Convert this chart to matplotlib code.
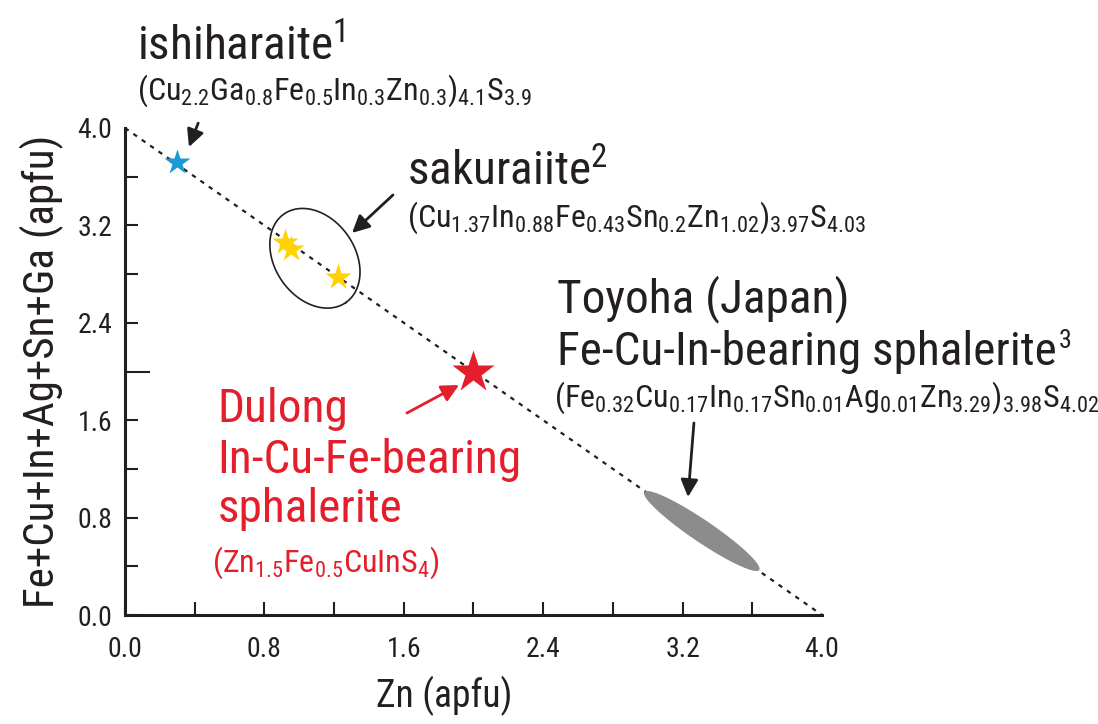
import matplotlib
matplotlib.use("Agg")
import matplotlib.pyplot as plt
from matplotlib import font_manager
import numpy as np

# line Zn + (Fe+Cu+In+Ag+Sn+Ga) = 4
line_zn = [0.0, 4.0]
line_sum = [4.0, 0.0]

ishiharaite_zn = [0.30]
ishiharaite_sum = [3.72]
sakuraiite_zn = [0.92, 0.95, 1.22]
sakuraiite_sum = [3.06, 3.01, 2.78]
dulong_zn = [2.0]
dulong_sum = [2.0]
toyoha_zn = [2.98, 3.64]  # ends of the field
toyoha_sum = [1.01, 0.37]

tick_values = [0.0, 0.8, 1.6, 2.4, 3.2, 4.0]
tick_labels = ["0.0", "0.8", "1.6", "2.4", "3.2", "4.0"]
minor_values = [0.4, 1.2, 2.0, 2.8, 3.6]

BLACK = "#231f20"
RED = "#e41f2b"


def pickFont():
    # look for a narrow sans (the original is set in Arial Narrow)
    fonts = font_manager.fontManager.ttflist
    names = set(f.name for f in fonts)
    for cand in ["Liberation Sans Narrow", "Arial Narrow", "Roboto Condensed",
                 "Open Sans Condensed", "Noto Sans Condensed"]:
        if cand in names:
            return cand, "normal", 1.0
    for f in fonts:
        if f.stretch in ("condensed", "semi-condensed") and f.style == "normal" \
                and f.name in ("DejaVu Sans", "Noto Sans", "Roboto", "Open Sans"):
            return f.name, f.stretch, 0.9
    return "Liberation Sans", "normal", 0.83


FONT, STRETCH, SC = pickFont()
plt.rcParams["font.family"] = [FONT, "DejaVu Sans"]
plt.rcParams["font.stretch"] = STRETCH

fig = plt.figure(figsize=(10.98, 7.24), dpi=100)
ax = fig.add_axes([125 / 1098, 109 / 724, 697 / 1098, 487 / 724])
ax.set_xlim(0, 4)
ax.set_ylim(0, 4)

for s in ["top", "right"]:
    ax.spines[s].set_visible(False)
for s in ["left", "bottom"]:
    ax.spines[s].set_linewidth(2.2)
    ax.spines[s].set_color(BLACK)

ax.set_xticks(tick_values)
ax.set_xticklabels(tick_labels)
ax.set_yticks(tick_values)
ax.set_yticklabels(tick_labels)
ax.set_xticks(minor_values, minor=True)
ax.set_yticks(minor_values, minor=True)
ax.tick_params(which="both", direction="in", length=9.5, width=1.5,
               color=BLACK, labelcolor=BLACK, labelsize=20 * SC)
ax.tick_params(axis="x", which="major", pad=15)
ax.tick_params(axis="y", which="major", pad=9)
# no tick marks at the far ends
ax.xaxis.get_major_ticks()[-1].tick1line.set_visible(False)
ax.yaxis.get_major_ticks()[-1].tick1line.set_visible(False)
# the 2.0 tick on the y axis is drawn longer
ax.yaxis.get_minor_ticks()[2].tick1line.set_markersize(18)

ax.set_xlabel("Zn (apfu)", fontsize=27 * SC, color=BLACK)
ax.xaxis.set_label_coords(0.458, -0.125)
ax.set_ylabel("Fe+Cu+In+Ag+Sn+Ga (apfu)", fontsize=31 * SC, color=BLACK,
              labelpad=10)

ax.plot(line_zn, line_sum, color=BLACK, lw=1.6, linestyle=(0, (2.0, 2.6)),
        clip_on=False, zorder=2)

# Toyoha field (grey ellipse along the line)
disp = ax.transData.transform(np.column_stack([toyoha_zn, toyoha_sum]))
c = disp.mean(axis=0)
d = disp[1] - disp[0]
half_len = np.hypot(*d) / 2
ang = np.arctan2(d[1], d[0])
t = np.linspace(0, 2 * np.pi, 200)
ex = half_len * np.cos(t)
ey = 11 * np.sin(t)
pts = np.column_stack([c[0] + ex * np.cos(ang) - ey * np.sin(ang),
                       c[1] + ex * np.sin(ang) + ey * np.cos(ang)])
pts = ax.transData.inverted().transform(pts)
ax.fill(pts[:, 0], pts[:, 1], color="#8c8c8c", lw=0, zorder=3)

# circle round the sakuraiite points
cdisp = ax.transData.transform([(1.09, 2.93)])[0]
ang = np.radians(-55)
ex = 54 * np.cos(t)
ey = 40 * np.sin(t)
pts = np.column_stack([cdisp[0] + ex * np.cos(ang) - ey * np.sin(ang),
                       cdisp[1] + ex * np.sin(ang) + ey * np.cos(ang)])
pts = ax.transData.inverted().transform(pts)
ax.plot(pts[:, 0], pts[:, 1], color=BLACK, lw=1.2, zorder=3)

ax.plot(ishiharaite_zn, ishiharaite_sum, "*", color="#1b9ad7", ms=19,
        mec="none", zorder=4)
ax.plot(sakuraiite_zn, sakuraiite_sum, "*", color="#ffd200", ms=20,
        mec="none", zorder=4)
ax.plot(dulong_zn, dulong_sum, "*", color=RED, ms=32, mec="none", zorder=4)

# arrows
arrow_k = dict(arrowstyle="-|>", color=BLACK, lw=2, mutation_scale=26,
               shrinkA=0, shrinkB=0)
ax.annotate("", xy=(0.367, 3.844), xytext=(0.42, 4.04), arrowprops=arrow_k,
            annotation_clip=False)
ax.annotate("", xy=(1.303, 3.138), xytext=(1.538, 3.45), arrowprops=arrow_k)
ax.annotate("", xy=(3.231, 0.969), xytext=(3.265, 1.577), arrowprops=arrow_k)
arrow_r = dict(arrow_k, color=RED)
ax.annotate("", xy=(1.917, 1.889), xytext=(1.618, 1.659), arrowprops=arrow_r)

# labels
big = 34 * SC
form = 23 * SC
kw = dict(color=BLACK, va="baseline", ha="left", clip_on=False)
ax.text(0.066, 4.558, r"ishiharaite$^\mathregular{1}$", fontsize=big, **kw)
ax.text(0.066, 4.23,
        r"(Cu$_\mathregular{2.2}$Ga$_\mathregular{0.8}$Fe$_\mathregular{0.5}$"
        r"In$_\mathregular{0.3}$Zn$_\mathregular{0.3}$)$_\mathregular{4.1}$"
        r"S$_\mathregular{3.9}$", fontsize=form, **kw)
ax.text(1.62, 3.532, r"sakuraiite$^\mathregular{2}$", fontsize=big, **kw)
ax.text(1.62, 3.187,
        r"(Cu$_\mathregular{1.37}$In$_\mathregular{0.88}$Fe$_\mathregular{0.43}$"
        r"Sn$_\mathregular{0.2}$Zn$_\mathregular{1.02}$)$_\mathregular{3.97}$"
        r"S$_\mathregular{4.03}$", fontsize=form, **kw)

# two-line Toyoha label as one text (baseline = last line), superscript after it
toy = ax.text(2.48, 2.053, "Toyoha (Japan)\nFe-Cu-In-bearing sphalerite",
              fontsize=big, linespacing=1.2, **kw)
fig.canvas.draw()
bb = toy.get_window_extent(fig.canvas.get_renderer())
sup_x = ax.transData.inverted().transform((bb.x1 + 2, 0))[0]
ax.text(sup_x, 2.053 + 0.14, "3", fontsize=big * 0.55, **kw)

ax.text(2.46, 1.708,
        r"(Fe$_\mathregular{0.32}$Cu$_\mathregular{0.17}$In$_\mathregular{0.17}$"
        r"Sn$_\mathregular{0.01}$Ag$_\mathregular{0.01}$Zn$_\mathregular{3.29}$)"
        r"$_\mathregular{3.98}$S$_\mathregular{4.02}$", fontsize=form, **kw)

kr = dict(kw, color=RED)
ax.text(0.53, 1.585, "Dulong", fontsize=big, **kr)
ax.text(0.53, 1.166, "In-Cu-Fe-bearing", fontsize=big, **kr)
ax.text(0.53, 0.764, "sphalerite", fontsize=big, **kr)
ax.text(0.50, 0.353,
        r"(Zn$_\mathregular{1.5}$Fe$_\mathregular{0.5}$CuInS$_\mathregular{4}$)",
        fontsize=form, **kr)

fig.savefig("out.png", dpi=100)
